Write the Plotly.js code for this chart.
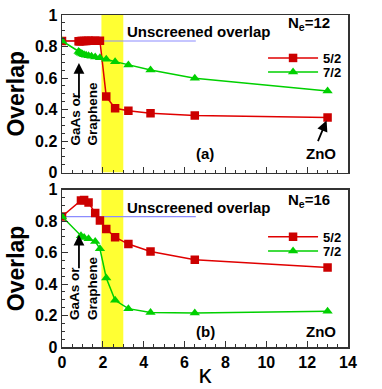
<!DOCTYPE html>
<html><head><meta charset="utf-8">
<script src="https://cdn.plot.ly/plotly-3.0.1.min.js"></script>
<style>html,body{margin:0;padding:0;background:#fff}#chart{width:382px;height:389px}</style>
</head><body><div id="chart"></div>
<script>
// ---- data ----
const kappaTop = [0, 0.8125, 0.8667, 0.9286, 1.0, 1.0833, 1.1818, 1.3, 1.4444, 1.625, 1.8571, 2.1667, 2.6, 3.25, 4.3333, 6.5, 13];
const top52 = [0.835, 0.834, 0.834, 0.835, 0.835, 0.835, 0.835, 0.836, 0.836, 0.836, 0.836, 0.482, 0.408, 0.393, 0.376, 0.362, 0.349];
const top72 = [0.835, 0.768, 0.762, 0.758, 0.752, 0.748, 0.745, 0.742, 0.738, 0.733, 0.728, 0.719, 0.704, 0.683, 0.651, 0.598, 0.518];
const kappaBot = [0, 0.9286, 1.0833, 1.3, 1.625, 1.8571, 2.1667, 2.6, 3.25, 4.3333, 6.5, 13];
const bot52 = [0.83, 0.932, 0.936, 0.919, 0.852, 0.805, 0.75, 0.699, 0.655, 0.608, 0.555, 0.506];
const bot72 = [0.83, 0.708, 0.697, 0.689, 0.672, 0.625, 0.439, 0.297, 0.244, 0.22, 0.216, 0.227];
const unscreenedX = [0, 6.55];
const unscreenedTop = [0.835, 0.835];
const unscreenedBot = [0.83, 0.83];
const bandX = [1.93, 3.0];
const seriesNames = ['5/2', '7/2'];
const xTicks = [0, 2, 4, 6, 8, 10, 12, 14];
const yTicks = [0, 0.2, 0.4, 0.6, 0.8, 1];

const RED = '#e00000', REDM = '#cc0000', GREEN = '#00d000', BLUE = '#8c8cff';
const FONT = 'Liberation Sans, Arial, sans-serif';

function series(x, y, name, col, mcol, sym, xa, ya, leg) {
  return {x: x, y: y, name: name, type: 'scatter', mode: 'lines+markers',
    xaxis: xa, yaxis: ya, legend: leg, showlegend: true,
    line: {color: col, width: 1.5},
    marker: {symbol: sym, size: sym === 'square' ? 8.5 : 9, color: mcol, line: {width: 0}}};
}
const traces = [
  {x: unscreenedX, y: unscreenedTop, type: 'scatter', mode: 'lines', line: {color: BLUE, width: 1.2}, xaxis: 'x', yaxis: 'y', showlegend: false, hoverinfo: 'skip'},
  {x: unscreenedX, y: unscreenedBot, type: 'scatter', mode: 'lines', line: {color: BLUE, width: 1.2}, xaxis: 'x2', yaxis: 'y2', showlegend: false, hoverinfo: 'skip'},
  series(kappaTop, top52, seriesNames[0], RED, REDM, 'square', 'x', 'y', 'legend'),
  series(kappaTop, top72, seriesNames[1], GREEN, GREEN, 'triangle-up', 'x', 'y', 'legend2'),
  series(kappaBot, bot52, seriesNames[0], RED, REDM, 'square', 'x2', 'y2', 'legend3'),
  series(kappaBot, bot72, seriesNames[1], GREEN, GREEN, 'triangle-up', 'x2', 'y2', 'legend4')
];

function xaxis(showLabels, anchor) {
  return {range: [0, 14], tickvals: xTicks, showticklabels: showLabels, anchor: anchor,
    ticks: 'inside', ticklen: 6, tickwidth: 1, tickcolor: '#333',
    minor: {dtick: 0.5, ticks: 'inside', ticklen: 3, tickcolor: '#333'},
    showline: true, linecolor: '#333', linewidth: 1.5, mirror: true, showgrid: false, zeroline: false,
    tickfont: {family: FONT, size: 16, weight: 'bold', color: '#000'}};
}
function yaxis(domain, anchor) {
  return {range: [0, 1], domain: domain, anchor: anchor, tickvals: yTicks,
    ticks: 'inside', ticklen: 6, tickwidth: 1, tickcolor: '#333',
    minor: {dtick: 0.05, ticks: 'inside', ticklen: 3, tickcolor: '#333'},
    showline: true, linecolor: '#333', linewidth: 1.5, mirror: true, showgrid: false, zeroline: false,
    tickfont: {family: FONT, size: 16, weight: 'bold', color: '#000'},
    title: {text: 'Overlap', font: {family: FONT, size: 23, weight: 'bold', color: '#000'}, standoff: 4}};
}

function legend(y) {
  return {x: 0.703, y: y, xanchor: 'left', yanchor: 'middle', itemwidth: 50,
    font: {family: FONT, size: 13, weight: 'bold', color: '#000'}, bgcolor: 'rgba(0,0,0,0)'};
}

function ann(text, x, y, xref, yref, size, extra) {
  return Object.assign({text: text, x: x, y: y, xref: xref, yref: yref, showarrow: false,
    font: {family: FONT, size: size, weight: 'bold', color: '#000'}}, extra || {});
}
function arrow(x, y, ax, ay, xref, yref) {
  return {text: '', x: x, y: y, ax: ax, ay: ay, xref: xref, yref: yref, axref: xref, ayref: yref,
    showarrow: true, arrowhead: 2, arrowsize: 1.2, arrowwidth: 1.8, arrowcolor: '#000', standoff: 0};
}

const layout = {
  width: 382, height: 389, margin: {l: 62, r: 34, t: 15, b: 42},
  paper_bgcolor: '#fff', plot_bgcolor: '#fff',
  xaxis: xaxis(false, 'y'),
  yaxis: yaxis([0.5254, 1], 'x'),
  xaxis2: Object.assign(xaxis(true, 'y2'), {title: {text: 'κ', font: {family: FONT, size: 26, color: '#000'}, standoff: 0}}),
  yaxis2: yaxis([0, 0.4734], 'x2'),
  legend: legend(0.8705),
  legend2: legend(0.8283),
  legend3: legend(0.3322),
  legend4: legend(0.2892),
  shapes: [
    {type: 'rect', xref: 'x', yref: 'y', x0: bandX[0], x1: bandX[1], y0: 0, y1: 1, fillcolor: '#ffff33', line: {width: 0}, layer: 'below'},
    {type: 'rect', xref: 'x2', yref: 'y2', x0: bandX[0], x1: bandX[1], y0: 0, y1: 1, fillcolor: '#ffff33', line: {width: 0}, layer: 'below'}
  ],
  annotations: [
    ann('Unscreened overlap', 6.7, 0.895, 'x', 'y', 15),
    ann('N<sub>e</sub>=12', 12.1, 0.945, 'x', 'y', 15),
    ann('(a)', 7.0, 0.12, 'x', 'y', 15),
    ann('ZnO', 12.7, 0.12, 'x', 'y', 15),
    ann('GaAs or<br>Graphene', 1.08, 0.16, 'x', 'y', 13.5, {textangle: -90, align: 'left', yanchor: 'bottom'}),
    arrow(0.83, 0.696, 0.83, 0.461, 'x', 'y'),
    arrow(12.95, 0.33, 12.5, 0.19, 'x', 'y'),
    ann('Unscreened overlap', 6.7, 0.885, 'x2', 'y2', 15),
    ann('N<sub>e</sub>=16', 12.1, 0.93, 'x2', 'y2', 15),
    ann('(b)', 7.0, 0.1, 'x2', 'y2', 15),
    ann('ZnO', 12.7, 0.1, 'x2', 'y2', 15),
    ann('GaAs or<br>Graphene', 1.08, 0.16, 'x2', 'y2', 13.5, {textangle: -90, align: 'left', yanchor: 'bottom'}),
    arrow(0.83, 0.714, 0.83, 0.491, 'x2', 'y2')
  ]
};
Plotly.newPlot('chart', traces, layout, {staticPlot: true});
</script></body></html>
